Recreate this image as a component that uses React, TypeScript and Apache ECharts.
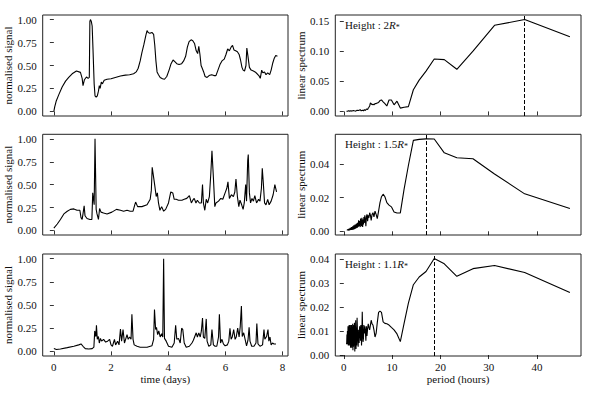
import React, { useEffect, useRef } from 'react';
import * as echarts from 'echarts';

// ---------- data ----------
const timeTop = [0.00, 0.03, 0.08, 0.17, 0.29, 0.41, 0.52, 0.64, 0.79, 0.93, 0.99, 1.02, 1.07, 1.14, 1.20, 1.24, 1.26, 1.28, 1.31, 1.34, 1.37, 1.41, 1.44, 1.48, 1.52, 1.56, 1.59, 1.62, 1.66, 1.70, 1.76, 1.86, 2.00, 2.15, 2.33, 2.50, 2.65, 2.79, 2.88, 2.95, 3.02, 3.08, 3.15, 3.22, 3.26, 3.30, 3.36, 3.43, 3.49, 3.53, 3.57, 3.61, 3.66, 3.72, 3.80, 3.87, 3.95, 4.03, 4.10, 4.17, 4.24, 4.30, 4.38, 4.47, 4.54, 4.61, 4.67, 4.73, 4.80, 4.86, 4.92, 4.98, 5.03, 5.07, 5.11, 5.15, 5.19, 5.24, 5.29, 5.36, 5.43, 5.52, 5.60, 5.67, 5.74, 5.81, 5.88, 5.96, 6.02, 6.08, 6.14, 6.20, 6.25, 6.30, 6.36, 6.42, 6.48, 6.53, 6.58, 6.62, 6.67, 6.72, 6.75, 6.79, 6.84, 6.90, 6.98, 7.04, 7.11, 7.17, 7.22, 7.27, 7.31, 7.37, 7.42, 7.48, 7.55, 7.60, 7.66, 7.71, 7.76, 7.82];
const signalTop = [0.00, 0.05, 0.11, 0.18, 0.265, 0.33, 0.37, 0.41, 0.44, 0.425, 0.36, 0.28, 0.345, 0.375, 0.36, 0.37, 0.98, 1.00, 0.98, 0.93, 0.67, 0.30, 0.17, 0.155, 0.17, 0.22, 0.28, 0.25, 0.32, 0.30, 0.34, 0.35, 0.355, 0.37, 0.385, 0.395, 0.40, 0.41, 0.43, 0.47, 0.55, 0.64, 0.73, 0.83, 0.88, 0.86, 0.85, 0.86, 0.84, 0.72, 0.55, 0.43, 0.40, 0.37, 0.355, 0.35, 0.38, 0.45, 0.52, 0.56, 0.54, 0.52, 0.51, 0.52, 0.55, 0.60, 0.70, 0.76, 0.78, 0.77, 0.74, 0.66, 0.63, 0.71, 0.62, 0.50, 0.47, 0.43, 0.38, 0.37, 0.39, 0.40, 0.39, 0.39, 0.45, 0.51, 0.55, 0.57, 0.62, 0.68, 0.66, 0.70, 0.72, 0.67, 0.66, 0.65, 0.62, 0.56, 0.48, 0.45, 0.44, 0.50, 0.69, 0.60, 0.48, 0.45, 0.44, 0.43, 0.41, 0.39, 0.36, 0.45, 0.42, 0.43, 0.40, 0.42, 0.40, 0.45, 0.53, 0.58, 0.61, 0.60];

const timeMid = [0.00, 0.12, 0.23, 0.35, 0.47, 0.58, 0.70, 0.81, 0.91, 0.95, 0.99, 1.02, 1.06, 1.09, 1.16, 1.26, 1.33, 1.36, 1.41, 1.44, 1.48, 1.51, 1.56, 1.60, 1.65, 1.74, 1.86, 2.03, 2.19, 2.33, 2.44, 2.56, 2.67, 2.77, 2.83, 2.86, 2.93, 3.08, 3.26, 3.37, 3.41, 3.44, 3.49, 3.53, 3.58, 3.62, 3.66, 3.71, 3.77, 3.84, 3.91, 4.01, 4.09, 4.16, 4.21, 4.28, 4.36, 4.48, 4.56, 4.65, 4.74, 4.81, 4.86, 4.91, 4.97, 5.02, 5.09, 5.16, 5.20, 5.23, 5.28, 5.33, 5.38, 5.44, 5.49, 5.53, 5.58, 5.63, 5.67, 5.76, 5.84, 5.91, 5.99, 6.05, 6.09, 6.14, 6.21, 6.28, 6.33, 6.37, 6.42, 6.47, 6.51, 6.57, 6.62, 6.66, 6.71, 6.74, 6.78, 6.80, 6.84, 6.88, 6.93, 6.98, 7.03, 7.09, 7.16, 7.21, 7.26, 7.29, 7.33, 7.37, 7.42, 7.48, 7.53, 7.60, 7.67, 7.73, 7.79];
const signalMid = [0.025, 0.07, 0.12, 0.18, 0.21, 0.23, 0.235, 0.22, 0.22, 0.14, 0.12, 0.18, 0.27, 0.16, 0.13, 0.12, 0.12, 0.41, 0.28, 1.00, 0.23, 0.18, 0.12, 0.24, 0.20, 0.19, 0.18, 0.20, 0.23, 0.22, 0.21, 0.22, 0.21, 0.21, 0.28, 0.31, 0.26, 0.26, 0.28, 0.34, 0.44, 0.69, 0.58, 0.49, 0.37, 0.41, 0.30, 0.22, 0.26, 0.21, 0.23, 0.30, 0.42, 0.41, 0.34, 0.34, 0.33, 0.33, 0.34, 0.35, 0.38, 0.30, 0.33, 0.35, 0.30, 0.33, 0.30, 0.30, 0.50, 0.30, 0.22, 0.34, 0.30, 0.37, 0.62, 0.87, 0.58, 0.26, 0.30, 0.32, 0.35, 0.34, 0.41, 0.46, 0.53, 0.35, 0.39, 0.37, 0.42, 0.56, 0.37, 0.26, 0.33, 0.28, 0.23, 0.30, 0.50, 0.32, 0.76, 0.83, 0.41, 0.30, 0.35, 0.32, 0.38, 0.30, 0.34, 0.32, 0.46, 0.68, 0.50, 0.30, 0.28, 0.34, 0.28, 0.32, 0.39, 0.50, 0.42];

const timeBot = [0.00, 0.09, 0.23, 0.47, 0.70, 0.87, 0.95, 1.02, 1.10, 1.22, 1.34, 1.40, 1.43, 1.47, 1.49, 1.52, 1.56, 1.59, 1.63, 1.67, 1.74, 1.81, 1.88, 1.95, 2.00, 2.05, 2.12, 2.16, 2.23, 2.28, 2.33, 2.37, 2.42, 2.47, 2.51, 2.56, 2.60, 2.65, 2.70, 2.73, 2.77, 2.81, 2.91, 3.02, 3.26, 3.43, 3.49, 3.52, 3.56, 3.59, 3.63, 3.67, 3.72, 3.77, 3.81, 3.84, 3.87, 3.93, 4.01, 4.13, 4.21, 4.26, 4.30, 4.36, 4.42, 4.47, 4.51, 4.56, 4.63, 4.74, 4.83, 4.88, 4.93, 4.98, 5.02, 5.07, 5.12, 5.16, 5.20, 5.23, 5.28, 5.33, 5.36, 5.42, 5.49, 5.53, 5.58, 5.64, 5.70, 5.76, 5.79, 5.83, 5.88, 5.93, 5.99, 6.07, 6.12, 6.16, 6.20, 6.24, 6.29, 6.34, 6.38, 6.43, 6.48, 6.52, 6.56, 6.59, 6.64, 6.69, 6.74, 6.79, 6.83, 6.86, 6.92, 7.00, 7.07, 7.10, 7.14, 7.21, 7.30, 7.35, 7.38, 7.44, 7.49, 7.52, 7.56, 7.60, 7.65, 7.70, 7.77];
const signalBot = [0.03, 0.02, 0.025, 0.04, 0.055, 0.07, 0.08, 0.055, 0.03, 0.025, 0.03, 0.045, 0.22, 0.16, 0.28, 0.13, 0.16, 0.09, 0.14, 0.11, 0.13, 0.10, 0.11, 0.13, 0.07, 0.055, 0.13, 0.07, 0.11, 0.07, 0.24, 0.11, 0.235, 0.09, 0.13, 0.18, 0.13, 0.155, 0.13, 0.40, 0.13, 0.07, 0.055, 0.045, 0.045, 0.06, 0.13, 0.45, 0.235, 0.26, 0.18, 0.22, 0.155, 0.19, 0.155, 1.00, 0.14, 0.11, 0.055, 0.045, 0.09, 0.28, 0.13, 0.14, 0.09, 0.25, 0.235, 0.09, 0.045, 0.055, 0.09, 0.12, 0.16, 0.20, 0.155, 0.20, 0.155, 0.22, 0.36, 0.155, 0.14, 0.35, 0.11, 0.055, 0.07, 0.235, 0.07, 0.055, 0.055, 0.155, 0.40, 0.09, 0.13, 0.08, 0.06, 0.07, 0.11, 0.25, 0.13, 0.155, 0.235, 0.13, 0.155, 0.25, 0.155, 0.27, 0.49, 0.16, 0.20, 0.13, 0.06, 0.12, 0.26, 0.11, 0.055, 0.055, 0.09, 0.30, 0.08, 0.055, 0.07, 0.235, 0.13, 0.16, 0.235, 0.11, 0.155, 0.07, 0.09, 0.08, 0.08];

const periodTop = [46.80, 37.44, 31.20, 26.74, 23.40, 20.80, 18.72, 17.02, 15.60, 14.40, 13.37, 12.48, 11.70, 11.01, 10.40, 9.85, 9.36, 8.91, 8.51, 8.14, 7.80, 7.49, 7.20, 6.93, 6.69, 6.46, 6.24, 6.04, 5.85, 5.67, 5.51, 5.35, 5.20, 5.06, 4.93, 4.68, 4.46, 4.25, 4.07, 3.90, 3.60, 3.40, 3.07, 2.75, 2.46, 2.20, 1.95, 1.70, 1.46, 1.21, 0.99, 0.75, 0.55];
const spectrumTop = [0.124, 0.1525, 0.143, 0.100, 0.070, 0.086, 0.087, 0.067, 0.052, 0.036, 0.008, 0.007, 0.0055, 0.017, 0.011, 0.019, 0.019, 0.009, 0.013, 0.016, 0.019, 0.018, 0.015, 0.014, 0.013, 0.013, 0.011, 0.012, 0.011, 0.013, 0.014, 0.009, 0.007, 0.0055, 0.003, 0.004, 0.0015, 0.003, 0.001, 0.002, 0.001, 0.003, 0.0015, 0.002, 0.0005, 0.001, 0.0015, 0.0005, 0.001, 0.0005, 0.001, 0.0003, 0.0002];

const periodMid = [46.80, 37.44, 31.20, 26.74, 23.40, 20.80, 18.72, 17.02, 15.60, 14.40, 13.37, 12.48, 11.70, 11.01, 10.40, 9.85, 9.36, 8.91, 8.51, 8.14, 7.80, 7.49, 7.20, 6.93, 6.69, 6.46, 6.24, 6.04, 5.85, 5.67, 5.51, 5.35, 5.20, 5.06, 4.93, 4.80, 4.68, 4.57, 4.46, 4.35, 4.25, 4.16, 4.07, 3.98, 3.90, 3.82, 3.74, 3.67, 3.60, 3.53, 3.47, 3.40, 3.28, 3.17, 3.07, 2.97, 2.84, 2.75, 2.60, 2.46, 2.34, 2.20, 2.08, 1.95, 1.84, 1.70, 1.59, 1.46, 1.34, 1.21, 1.10, 0.99, 0.87, 0.75, 0.65];
const spectrumMid = [0.0135, 0.0222, 0.034, 0.043, 0.0436, 0.0465, 0.0547, 0.0548, 0.0545, 0.0539, 0.039, 0.025, 0.0109, 0.0108, 0.0115, 0.0145, 0.0155, 0.017, 0.0205, 0.022, 0.0205, 0.017, 0.012, 0.0075, 0.010, 0.012, 0.0085, 0.011, 0.010, 0.0065, 0.0095, 0.011, 0.008, 0.0095, 0.006, 0.010, 0.0085, 0.003, 0.007, 0.0095, 0.005, 0.0085, 0.004, 0.007, 0.0025, 0.006, 0.008, 0.003, 0.006, 0.0045, 0.0075, 0.0025, 0.006, 0.003, 0.0065, 0.0025, 0.005, 0.002, 0.0045, 0.0015, 0.004, 0.0012, 0.0035, 0.001, 0.003, 0.0008, 0.0025, 0.0008, 0.002, 0.0006, 0.0015, 0.0005, 0.0012, 0.0006, 0.001];

const periodBot = [46.80, 37.44, 31.20, 26.74, 23.40, 20.80, 18.72, 17.02, 15.60, 14.40, 13.37, 12.48, 11.70, 11.01, 10.40, 9.85, 9.36, 8.91, 8.51, 8.14, 7.80, 7.49, 7.20, 6.93, 6.69, 6.46, 6.24, 6.04, 5.85, 5.67, 5.51, 5.35, 5.20, 5.06, 4.93, 4.80, 4.68, 4.57, 4.46, 4.35, 4.25, 4.16, 4.07, 3.98, 3.90, 3.82, 3.74, 3.67, 3.60, 3.53, 3.47, 3.40, 3.28, 3.17, 3.07, 2.97, 2.84, 2.75, 2.67, 2.60, 2.53, 2.46, 2.40, 2.34, 2.28, 2.20, 2.13, 2.08, 2.01, 1.95, 1.89, 1.84, 1.78, 1.70, 1.64, 1.59, 1.52, 1.46, 1.40, 1.34, 1.27, 1.21, 1.15, 1.10, 1.04, 0.99, 0.93, 0.87, 0.81, 0.75, 0.70, 0.65, 0.60, 0.55];
const spectrumBot = [0.0261, 0.0344, 0.0373, 0.036, 0.0328, 0.038, 0.0402, 0.0348, 0.0325, 0.0293, 0.0216, 0.0132, 0.0056, 0.0088, 0.0105, 0.0115, 0.0125, 0.013, 0.0132, 0.0138, 0.0178, 0.0183, 0.0178, 0.0135, 0.009, 0.0075, 0.0105, 0.0125, 0.013, 0.0145, 0.0125, 0.0105, 0.0115, 0.013, 0.011, 0.008, 0.012, 0.006, 0.010, 0.012, 0.009, 0.0125, 0.007, 0.0055, 0.0105, 0.018, 0.008, 0.004, 0.011, 0.0125, 0.006, 0.009, 0.012, 0.005, 0.0105, 0.0035, 0.009, 0.0155, 0.004, 0.0115, 0.0025, 0.0145, 0.006, 0.0115, 0.0015, 0.0135, 0.004, 0.0125, 0.0035, 0.011, 0.002, 0.013, 0.004, 0.0115, 0.003, 0.0125, 0.0045, 0.0105, 0.003, 0.0125, 0.0055, 0.011, 0.004, 0.0125, 0.005, 0.0095, 0.004, 0.012, 0.005, 0.010, 0.0045, 0.0085, 0.005, 0.0045];

const peakPeriods = [37.44, 17.02, 18.72];
const heightLabels = ['2', '1.5', '1.1'];

const timeTicks = [0, 2, 4, 6, 8];
const periodTicks = [0, 10, 20, 30, 40];
const signalTicks = [0, 0.25, 0.5, 0.75, 1];
const spectrumTicksTop = [0, 0.05, 0.1, 0.15];
const spectrumTicksMid = [0, 0.02, 0.04];
const spectrumTicksBot = [0, 0.01, 0.02, 0.03, 0.04];

// ---------- layout ----------
const FONT = "'Liberation Serif', 'DejaVu Serif', serif";
const FS = 11;
const LEFT_L = 42.7;
const LEFT_W = 245.3;
const RIGHT_L = 335.3;
const RIGHT_W = 245.7;
const ROW_TOP = [15, 134.3, 254];
const ROW_H = [101, 100.7, 102];
const INK = '#111';

const zip = (xs: number[], ys: number[]) => xs.map((x, i) => [x, ys[i]]);

export default function App() {
  const ref = useRef<HTMLDivElement>(null);
  useEffect(() => {
    if (!ref.current) return;
    const chart = echarts.init(ref.current, undefined, { renderer: 'svg' });

    const leftSeries = [
      zip(timeTop, signalTop),
      zip(timeMid, signalMid),
      zip(timeBot, signalBot),
    ];
    const rightSeries = [
      zip(periodTop, spectrumTop),
      zip(periodMid, spectrumMid),
      zip(periodBot, spectrumBot),
    ];
    const yRight = [
      { min: -0.0076, max: 0.1601, ticks: spectrumTicksTop },
      { min: -0.0022, max: 0.0575, ticks: spectrumTicksMid },
      { min: -0.0004, max: 0.0421, ticks: spectrumTicksBot },
    ];

    const grids: any[] = [];
    const xAxes: any[] = [];
    const yAxes: any[] = [];
    const series: any[] = [];
    const graphics: any[] = [];

    const textStyle = { fontFamily: FONT, fontSize: FS, color: INK, fontWeight: 'normal' };

    const tickStyle = (vals: number[]) => ({
      show: true,
      inside: false,
      length: 4,
      customValues: vals,
      lineStyle: { color: '#000', width: 0.8 },
    });
    const labelStyle = (vals: number[], show: boolean, fmt: (v: number) => string, margin: number) => ({
      show,
      customValues: vals,
      formatter: fmt,
      ...textStyle,
      margin,
    });

    for (let r = 0; r < 3; r++) {
      grids.push({
        left: LEFT_L, top: ROW_TOP[r], width: LEFT_W, height: ROW_H[r],
        show: true, borderColor: '#222', borderWidth: 1, backgroundColor: 'transparent',
      });
      grids.push({
        left: RIGHT_L, top: ROW_TOP[r], width: RIGHT_W, height: ROW_H[r],
        show: true, borderColor: '#222', borderWidth: 1, backgroundColor: 'transparent',
      });
    }

    for (let r = 0; r < 3; r++) {
      const gl = r * 2;
      const gr = r * 2 + 1;
      const isBottom = r === 2;
      xAxes.push({
        type: 'value', gridIndex: gl, min: -0.39, max: 8.19,
        axisLine: { show: false }, splitLine: { show: false },
        axisTick: tickStyle(timeTicks),
        axisLabel: labelStyle(timeTicks, isBottom, (v: number) => String(v), 5),
        name: isBottom ? 'time (days)' : '',
        nameLocation: 'middle', nameGap: 17,
        nameTextStyle: textStyle,
      });
      xAxes.push({
        type: 'value', gridIndex: gr, min: -1.76, max: 49.1,
        axisLine: { show: false }, splitLine: { show: false },
        axisTick: tickStyle(periodTicks),
        axisLabel: labelStyle(periodTicks, isBottom, (v: number) => String(v), 5),
        name: isBottom ? 'period (hours)' : '',
        nameLocation: 'middle', nameGap: 17,
        nameTextStyle: textStyle,
      });
      yAxes.push({
        type: 'value', gridIndex: gl, min: -0.05, max: 1.05,
        axisLine: { show: false }, splitLine: { show: false },
        axisTick: tickStyle(signalTicks),
        axisLabel: labelStyle(signalTicks, true, (v: number) => v.toFixed(2), 6),
        name: 'normalised signal', nameLocation: 'middle', nameGap: 24, nameRotate: 90,
        nameTextStyle: textStyle,
      });
      yAxes.push({
        type: 'value', gridIndex: gr, min: yRight[r].min, max: yRight[r].max,
        axisLine: { show: false }, splitLine: { show: false },
        axisTick: tickStyle(yRight[r].ticks),
        axisLabel: labelStyle(yRight[r].ticks, true, (v: number) => v.toFixed(2), 6),
        name: 'linear spectrum', nameLocation: 'middle', nameGap: 25, nameRotate: 90,
        nameTextStyle: textStyle,
      });

      series.push({
        type: 'line', xAxisIndex: gl, yAxisIndex: gl, data: leftSeries[r],
        symbol: 'none', showSymbol: false, clip: true,
        lineStyle: { color: '#000', width: 1.1 },
      });
      series.push({
        type: 'line', xAxisIndex: gr, yAxisIndex: gr, data: rightSeries[r],
        symbol: 'none', showSymbol: false, clip: true,
        lineStyle: { color: '#000', width: 1.1 },
        markLine: {
          silent: true, symbol: 'none', animation: false,
          label: { show: false },
          lineStyle: { color: '#000', type: [4, 2], width: 1 },
          data: [{ xAxis: peakPeriods[r] }],
        },
      });

      graphics.push({
        type: 'text',
        left: 345, top: ROW_TOP[r] + 4,
        style: {
          text: `{a|Height : ${heightLabels[r]}}{r|R}{s|*}`,
          fontFamily: FONT, fontSize: FS, fontWeight: 'normal', fill: INK,
          rich: {
            a: { fontFamily: FONT, fontSize: FS, fontWeight: 'normal', fill: INK, lineHeight: 14 },
            r: { fontFamily: FONT, fontSize: FS, fontWeight: 'normal', fontStyle: 'italic', fill: INK, lineHeight: 14 },
            s: { fontFamily: FONT, fontSize: 8, fontWeight: 'normal', fill: INK, lineHeight: 8, verticalAlign: 'bottom' },
          },
        },
      });
    }

    chart.setOption({
      animation: false,
      backgroundColor: '#fff',
      grid: grids,
      xAxis: xAxes,
      yAxis: yAxes,
      series,
      graphic: graphics,
    });
    return () => chart.dispose();
  }, []);

  return (
    <div
      ref={ref}
      style={{ position: 'absolute', left: 0, top: 0, width: 592, height: 395 }}
    />
  );
}
